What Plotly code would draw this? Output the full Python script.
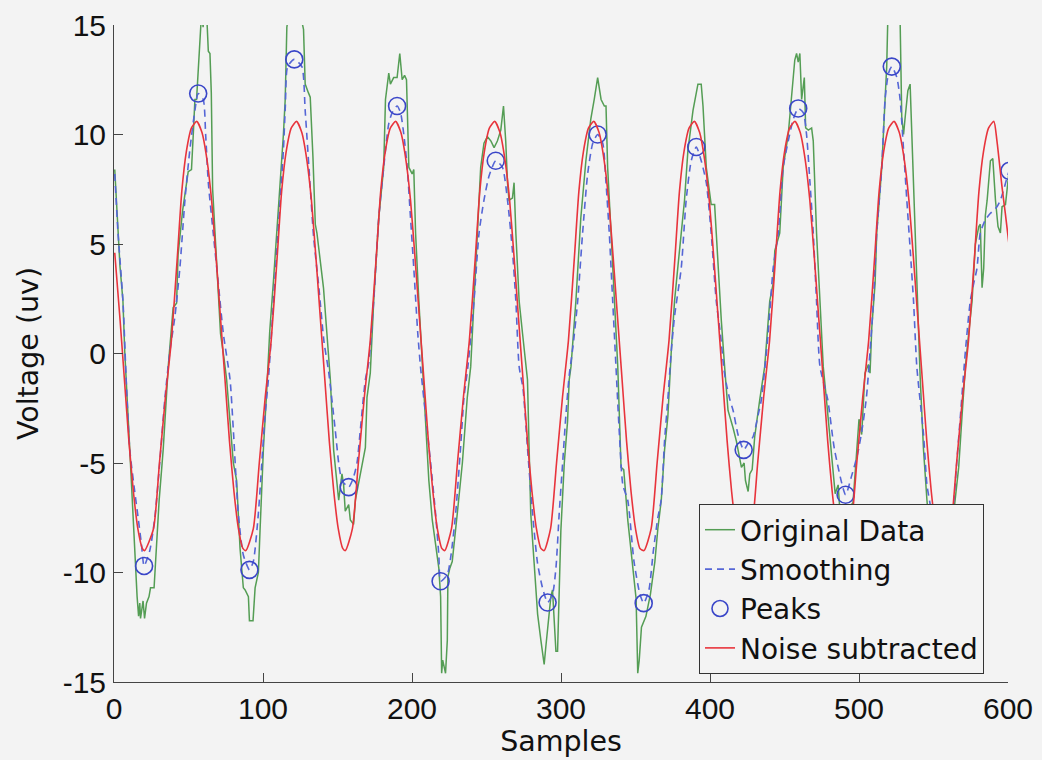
import plotly.graph_objects as go

# ---------------- data ----------------
# Original Data (green, noisy)
orig_x = [0.5, 1.5, 4, 6, 7.2, 10.6, 12.8, 13.9, 14.6, 15.5, 16.5, 17.3, 17.8, 19.5, 20.5, 21.8, 23.5, 24.5,
          26.9, 28.5, 30.3, 33, 36.4, 39.7, 42, 43, 46, 49.8, 52, 53.2, 54.3, 55.4, 57.7, 58.8, 59.8, 60.6,
          62.2, 63.3, 64.4, 64.9, 65.3, 66.2, 68.9, 71.5, 74, 75.6, 80.1, 82.3, 84.6, 86.8, 88, 90.2, 90.9,
          93.3, 94.7, 96.9, 98, 100.3, 102.5, 104.5, 107, 109, 111.5, 113.7, 114.9, 116, 118, 122, 125,
          127.2, 128.3, 130.5, 131.7, 133.5, 135.1, 136.2, 138.4, 140.6, 142.9, 145.2, 147.4, 150.8, 153,
          154.1, 155.2, 157.5, 158.6, 160.8, 162, 164, 166.5, 168.7, 169.8, 172, 174.3, 177.7, 181, 182.2,
          184.4, 185.5, 187.7, 190, 191.8, 193.4, 195, 196.3, 197.9, 200.1, 201.2, 202.4, 204.6, 206.9,
          209.1, 211.3, 213.6, 215.8, 218, 219.2, 219.9, 220.6, 221.4, 222.5, 223.7, 224.1, 225.4, 227,
          230.4, 233.8, 237.1, 239.4, 241.6, 243.9, 246.1, 248.3, 250.6, 253, 255.1, 257.3, 259.6, 261.4,
          262.9, 264.1, 265.1, 267.4, 268.5, 269.7, 271.9, 274.2, 276.4, 277.5, 278.6, 279.7, 282, 284.3,
          286.5, 288.7, 289.8, 292.1, 293.2, 294.3, 296.6, 297.7, 298.8, 299.9, 302.2, 304.4, 305.5, 306.7,
          310, 313.3, 316.7, 320, 322.3, 324.6, 326.9, 329.1, 330.2, 331.3, 333.6, 335.8, 338.1, 339.2,
          340.3, 342.1, 343.7, 344.8, 347, 349.3, 350.4, 351.5, 352.5, 354, 357, 360, 363, 365, 367.3,
          369.5, 371.7, 374, 376.2, 378.5, 380.7, 382.9, 385.2, 388.6, 391.9, 394.1, 395.3, 397.5, 400.8,
          403.1, 404.2, 405.5, 407.6, 409.8, 412.1, 415.5, 417.7, 421.1, 422.9, 423.8, 425.6, 426.7, 428.3,
          430, 431.2, 433.4, 436.7, 440.1, 442.4, 443.5, 446.8, 449.1, 452.5, 454.7, 456.9, 458.1, 459.2,
          460.3, 461.5, 463.3, 464.2, 466, 468.2, 469.3, 471.5, 473.8, 476, 478, 480, 482, 484, 486, 487.5,
          489, 491, 492.5, 494, 496, 498, 500, 501.8, 504, 506.3, 507.4, 508.6, 510.8, 511.9, 513.5, 515.3,
          517.5, 518.6, 519.3, 521, 524, 527.6, 528.7, 529.9, 531, 532.8, 534.3, 535.5, 537.7, 538.8, 541,
          543.3, 545.6, 548, 551, 554, 557, 560, 562.5, 564.6, 566.9, 569.1, 571.4, 573.6, 575.9, 578.1,
          580.4, 581.4, 582.6, 583.7, 584.8, 586, 588.2, 589.8, 591.6, 593.3, 594.9, 596, 598.3, 600.5, 601.5]
orig_y = [8.4, 7.0, 4.0, 2.4, 0.1, -4.4, -7.5, -9.0, -10.5, -11.1, -12.0, -11.4, -12.1, -11.3, -12.1, -11.4, -11.1, -10.7,
          -10.7, -9.0, -6.7, -4.4, -0.6, 2.1, 2.3, 4.5, 6.5, 8.3, 8.4, 10.0, 11.6, 11.6, 14.8, 15.6, 14.9, 15.8,
          15.5, 13.8, 13.7, 12.6, 11.9, 7.5, 4.2, 0.9, -0.3, -1.2, -5.0, -5.8, -8.9, -10.7, -10.8, -11.1, -12.2,
          -12.2, -10.7, -10.0, -8.1, -4.3, -1.7, 1.0, 3.3, 5.5, 7.8, 10.0, 11.6, 14.9, 15.8, 15.6, 15.5,
          14.8, 12.3, 11.9, 11.7, 9.0, 5.9, 5.5, 4.3, 3.0, 0.9, -1.2, -4.4, -6.7, -5.5,
          -6.0, -7.2, -6.9, -7.6, -7.8, -6.7, -6.0, -5.0, -4.3, -2.0, -0.9, 2.4, 6.2, 8.5, 11.6,
          12.8, 12.3, 12.6, 12.6, 13.7, 12.5, 12.7, 12.5, 8.5, 8.2, 8.4, 5.5, 2.4, -0.6,
          -3.2, -5.8, -7.6, -8.6, -9.8, -11.1, -14.6, -14.0, -14.2, -14.6, -13.1, -10.2, -9.8, -9.5,
          -7.3, -5.0, -2.0, -0.6, 2.4, 5.5, 8.5, 9.6, 9.9, 9.7, 9.4, 9.7, 10.2, 11.3,
          9.7, 7.8, 7.0, 7.1, 7.8, 5.5, 2.4, 0.9, -0.6, -1.2, -4.3, -7.3, -9.6, -11.9,
          -13.1, -14.2, -13.4, -11.9, -11.1, -10.8, -13.6, -13.6, -10.4, -8.1, -5.0, -3.1, -1.2, -0.6,
          2.4, 6.2, 8.8, 10.7, 11.6, 12.6, 11.6, 11.3, 11.3, 8.5, 5.5, 2.4, -0.6, -2.9,
          -5.2, -5.3, -6.7, -7.6, -9.0, -10.4, -11.2, -14.6, -14.0, -12.5, -12.0, -11.0, -9.5, -8.0, -6.7,
          -4.4, -2.9, 0.1, 2.4, 4.0, 5.5, 7.0, 9.3, 11.1, 12.3, 12.3, 11.3, 8.5, 6.8,
          6.8, 5.5, 3.8, 1.5, -0.6, -2.6, -3.4, -4.0, -5.2, -5.0, -5.8, -6.3, -5.5, -5.3,
          -3.8, -3.1, -2.1, -0.6, 2.4, 3.2, 4.7, 5.5, 8.5, 10.0, 11.6, 13.4, 13.7, 13.3,
          13.7, 11.6, 12.6, 10.3, 10.2, 10.3, 9.7, 5.5, 2.4, -0.6, -2.0, -3.5, -5.0, -6.4, -6.0, -7.5,
          -8.0, -7.2, -8.2, -7.0, -6.8, -5.0, -3.0, -3.7, -0.9, -0.5, -0.9, 1.2, 3.2, 5.5, 7.0, 8.5,
          11.6, 13.1, 15.2, 16.0, 16.0, 15.2, 10.8, 10.0, 10.8, 12.0, 12.3, 10.0, 5.5, 3.9, -1.0,
          -4.4, -6.7, -8.5, -10.5, -11.0, -10.8, -9.5, -8.0, -6.7, -5.2, -2.9, -0.6, 0.9, 2.4, 5.0,
          5.8, 5.9, 3.0, 3.9, 6.3, 7.0, 8.8, 8.9, 7.0, 5.8, 5.5, 6.7, 6.8, 8.2, 6.4]

# Smoothing (blue dashed)
smooth_x = [0.5, 2.7, 6, 8.3, 10.6, 13.9, 16.2, 18.4, 20.2, 24, 27.4, 30.8, 34.1, 37.5, 40.9, 44.2, 47.6,
            50.9, 54.3, 56.5, 59.9, 61.5, 63.3, 66.6, 70, 73.4, 77.9, 80.1, 83.4, 86.8, 90.9, 93.5, 96.9,
            99.2, 101.4, 103.6, 108.1, 111.5, 113.7, 115, 116.5, 121, 126.1, 128.3, 131.5, 134, 137.5, 141,
            144, 148.5, 150.8, 153, 157.5, 160.5, 163.1, 165.3, 168.7, 171, 174.3, 177.7, 181, 184.4, 186.7,
            190, 192.3, 194.5, 196.8, 199, 201.2, 203.9, 205.7, 209.1, 212.5, 215.8, 218, 219.2, 223.7, 226,
            229.3, 232.6, 234.9, 237.5, 241.6, 245, 248.3, 251.7, 256.2, 260.7, 264.1, 267.4, 269.7, 271.9,
            274.5, 277.5, 280.9, 284.3, 287.6, 291, 294.3, 296.6, 298.8, 301.1, 303.3, 305.5, 308, 311.2,
            314.5, 317.9, 321.3, 324.6, 328, 330.2, 332.4, 334.7, 336.9, 339.2, 341.5, 344.8, 349, 353,
            355.5, 359, 362, 365, 367.2, 369.5, 371.7, 374, 376.2, 380.7, 384, 387.4, 390.8, 394.1, 397.5,
            400.8, 404.2, 407, 409.5, 411, 413.3, 415.5, 418.8, 422.6, 425.6, 428.9, 432.3, 434.5, 439,
            442.4, 445.8, 449.1, 452.5, 455.9, 459.2, 462.6, 464.8, 467.1, 469.3, 471.5, 473.8, 479, 483.6,
            491, 495, 499, 502, 505, 507.4, 509.7, 511.9, 515.3, 517.5, 519.8, 522, 525.4, 527.6, 529.9,
            532.1, 534.4, 536.6, 538.8, 543.3, 545.6, 547.8, 551, 556, 559, 562, 563.5, 565.7, 568, 571.4,
            574.7, 577, 579.2, 581.4, 584.8, 588.2, 592.6, 594.9, 597.2, 601, 602.8]
smooth_y = [8.2, 5.5, 2.4, -1.4, -4.4, -6.3, -7.5, -8.7, -9.7, -9.0, -7.5, -4.9, -2.1, 0.1, 1.7, 3.9, 7.0,
            9.3, 11.1, 11.87, 11.6, 10.0, 7.8, 5.5, 3.2, 0.9, -1.2, -3.5, -7.3, -9.2, -9.88, -9.5, -7.3,
            -5.0, -2.8, -1.2, 3.5, 7.0, 9.3, 11.3, 13.1, 13.43, 13.1, 11.1, 7.8, 5.3, 3.0, 0.5,
            -0.8, -3.5, -5.0, -5.8, -6.1, -5.7, -5.0, -3.5, -1.2, -0.4, 2.4, 6.2, 8.5, 10.5, 11.0,
            11.3, 11.0, 10.0, 8.5, 6.2, 3.9, 0.9, -0.6, -2.8, -5.0, -7.3, -9.2, -10.4, -10.1, -9.3,
            -7.3, -4.3, -2.0, -0.6, 2.4, 5.5, 7.0, 8.1, 8.8, 8.5, 7.0, 4.7, 2.4, -0.6,
            -1.6, -4.3, -7.3, -9.6, -10.7, -11.37, -11.0, -9.8, -7.3, -5.0, -2.8, -1.0, 0.3, 2.4,
            5.5, 8.2, 9.6, 10.0, 9.6, 7.8, 5.5, 2.4, -0.6, -3.7, -6.0, -6.7, -9.5, -11.0,
            -11.4, -10.8, -9.0, -7.5, -6.7, -4.0, -2.1, 0.1, 1.7, 3.9, 7.0, 8.8, 9.43, 8.8, 7.8,
            5.5, 2.4, 0.9, -0.8, -1.4, -2.1, -2.6, -3.7, -4.4, -4.1, -3.8, -2.8, -2.1, 0.9,
            3.9, 5.5, 8.5, 9.7, 10.7, 11.19, 11.0, 10.0, 7.8, 5.5, 2.4, -0.6, -2.1, -4.4,
            -6.45, -5.6, -4.6, -3.5, -2.0, 0.1, 2.4, 5.5, 8.5, 11.6, 12.8, 13.1, 12.6, 11.6, 9.3,
            7.0, 4.7, 2.4, -0.6, -3.7, -6.0, -6.9, -8.5, -9.7, -9.2, -7.8, -6.9, -4.9, -2.9, 0.1,
            2.4, 3.2, 3.9, 5.5, 6.1, 6.4, 6.7, 7.0, 7.5, 8.34, 6.5]

# Peaks (blue circles)
peak_x = [20.2, 56.5, 90.9, 121, 157.5, 190, 219.2, 256.2, 291, 324.6, 355.5, 390.8, 422.6, 459.2, 491, 522, 556, 601]
peak_y = [-9.7, 11.87, -9.88, 13.43, -6.1, 11.3, -10.4, 8.8, -11.37, 10.0, -11.4, 9.43, -4.4, 11.19, -6.45, 13.1, -9.7, 8.34]

# Noise subtracted (red)
noise_x = [0.5, 4, 7, 10, 13, 16, 19, 20.5,
           26.5, 30.5, 34.5, 38.5, 42.5, 45.5, 48.5, 52, 55.5, 59, 62.5, 65.5, 68.5, 71.5, 74.5, 77.5, 80.5, 83.5, 86.5, 88.5,
           93.5, 97.5, 101.5, 105.5, 109.5, 112.5, 115.5, 119, 122.5, 126, 129.5, 132.5, 135.5, 138.5, 141.5, 144.5, 147.5, 150.5, 153.5, 155.3,
           160, 164, 168, 172, 176, 179, 182, 185.5, 189, 192.5, 196, 199, 202, 205, 208, 211, 214, 217, 220, 222,
           226.5, 230.5, 234.5, 238.5, 242.5, 245.5, 248.5, 252, 255.5, 259, 262.5, 265.5, 268.5, 271.5, 274.5, 277.5, 280.5, 283.5, 286.5, 288.7,
           293, 297, 301, 305, 309, 312, 315, 318.5, 322, 325.5, 329, 332, 335, 338, 341, 344, 347, 350, 353, 355.7,
           360.5, 364.5, 368.5, 372.5, 376.5, 379.5, 382.5, 386, 389.5, 393, 396.5, 399.5, 402.5, 405.5, 408.5, 411.5, 414.5, 417.5, 420.5, 422.8,
           428, 432, 436, 440, 444, 447, 450, 453.5, 457, 460.5, 464, 467, 470, 473, 476, 479, 482, 485, 488, 490,
           494.5, 498.5, 502.5, 506.5, 510.5, 513.5, 516.5, 520, 523.5, 527, 530.5, 533.5, 536.5, 539.5, 542.5, 545.5, 548.5, 551.5, 554.5, 557,
           561.5, 565.5, 569.5, 573.5, 577.5, 580.5, 583.5, 587, 590.5, 592.6, 596, 598.2, 601]
noise_y = [4.6, 1.6, -1.2, -4.0, -6.3, -8.0, -8.9, -9.0,
           -8.0, -5.0, -2.0, 0.6, 4.4, 7.4, 9.2, 10.3, 10.6, 10.1, 8.8, 7.0, 4.4, 1.6, -1.2, -4.0, -6.3, -8.0, -8.9, -9.0,
           -8.0, -5.0, -2.0, 0.6, 4.4, 7.4, 9.2, 10.3, 10.6, 10.1, 8.8, 7.0, 4.4, 1.6, -1.2, -4.0, -6.3, -8.0, -8.9, -9.0,
           -8.0, -5.0, -2.0, 0.6, 4.4, 7.4, 9.2, 10.3, 10.6, 10.1, 8.8, 7.0, 4.4, 1.6, -1.2, -4.0, -6.3, -8.0, -8.9, -9.0,
           -8.0, -5.0, -2.0, 0.6, 4.4, 7.4, 9.2, 10.3, 10.6, 10.1, 8.8, 7.0, 4.4, 1.6, -1.2, -4.0, -6.3, -8.0, -8.9, -9.0,
           -8.0, -5.0, -2.0, 0.6, 4.4, 7.4, 9.2, 10.3, 10.6, 10.1, 8.8, 7.0, 4.4, 1.6, -1.2, -4.0, -6.3, -8.0, -8.9, -9.0,
           -8.0, -5.0, -2.0, 0.6, 4.4, 7.4, 9.2, 10.3, 10.6, 10.1, 8.8, 7.0, 4.4, 1.6, -1.2, -4.0, -6.3, -8.0, -8.9, -9.0,
           -8.0, -5.0, -2.0, 0.6, 4.4, 7.4, 9.2, 10.3, 10.6, 10.1, 8.8, 7.0, 4.4, 1.6, -1.2, -4.0, -6.3, -8.0, -8.9, -9.0,
           -8.0, -5.0, -2.0, 0.6, 4.4, 7.4, 9.2, 10.3, 10.6, 10.1, 8.8, 7.0, 4.4, 1.6, -1.2, -4.0, -6.3, -8.0, -8.9, -9.0,
           -8.0, -5.0, -2.0, 0.6, 4.4, 7.4, 9.2, 10.3, 10.6, 9.7, 7.6, 6.4, 4.8]

x_tick_vals = [0, 100, 200, 300, 400, 500, 600]
x_tick_text = ["0", "100", "200", "300", "400", "500", "600"]
y_tick_vals = [-15, -10, -5, 0, 5, 10, 15]
y_tick_text = ["-15", "-10", "-5", "0", "5", "10", "15"]

# ---------------- styling ----------------
BG = "#f3f3f3"
FONT = "Liberation Sans, Arial, Helvetica, sans-serif"
WIDE_FONT = "DejaVu Sans, Liberation Sans, sans-serif"
GREEN = "#549d54"
BLUE_LINE = "#5566d6"
BLUE_MARK = "#3a46c8"
RED = "#e8343c"
AXIS = "#444444"

fig = go.Figure()
fig.add_trace(go.Scatter(x=orig_x, y=orig_y, mode="lines", name="Original Data",
                         line=dict(color=GREEN, width=1.5)))
fig.add_trace(go.Scatter(x=smooth_x, y=smooth_y, mode="lines", name="Smoothing",
                         line=dict(color=BLUE_LINE, width=1.6, dash="7px,5px", shape="spline", smoothing=0.6)))
fig.add_trace(go.Scatter(x=peak_x, y=peak_y, mode="markers", name="Peaks",
                         marker=dict(symbol="circle-open", size=17, color=BLUE_MARK,
                                     line=dict(width=1.6, color=BLUE_MARK)),
                         cliponaxis=True))
fig.add_trace(go.Scatter(x=noise_x, y=noise_y, mode="lines", name="Noise subtracted",
                         line=dict(color=RED, width=1.6, shape="spline", smoothing=0.6)))

fig.update_layout(
    width=1042, height=760,
    paper_bgcolor=BG, plot_bgcolor=BG,
    margin=dict(l=114, r=34, t=25, b=78, pad=0, autoexpand=False),
    font=dict(family=FONT, size=29, color="#111111"),
    showlegend=True,
    legend=dict(x=(699 - 114) / 894, y=(682 - 504) / 657, xanchor="left", yanchor="top",
                bgcolor=BG, bordercolor="#333333", borderwidth=1,
                font=dict(family=WIDE_FONT, size=28, color="#111111"),
                tracegroupgap=0, itemwidth=30),
)
fig.update_xaxes(range=[0, 600], tickmode="array", tickvals=x_tick_vals, ticktext=x_tick_text,
                 ticks="inside", ticklen=9, tickwidth=1, tickcolor=AXIS,
                 showline=True, linecolor=AXIS, linewidth=1, mirror=False, automargin=False,
                 showgrid=False, zeroline=False, ticklabelstandoff=0,
                 tickfont=dict(size=30),
                 title=dict(text="Samples", standoff=2, font=dict(family=WIDE_FONT, size=28.5)))
fig.update_yaxes(range=[-15, 15], tickmode="array", tickvals=y_tick_vals, ticktext=y_tick_text,
                 ticks="inside", ticklen=9, tickwidth=1, tickcolor=AXIS,
                 showline=True, linecolor=AXIS, linewidth=1, mirror=False, automargin=False,
                 showgrid=False, zeroline=False, ticklabelstandoff=1,
                 tickfont=dict(size=30),
                 title=dict(text="Voltage (uv)", standoff=15, font=dict(family=WIDE_FONT, size=28.5)))

fig.write_html("out.html", config={"displayModeBar": False},
               post_script="document.body.style.margin='0px'; document.body.style.background='" + BG + "';")
